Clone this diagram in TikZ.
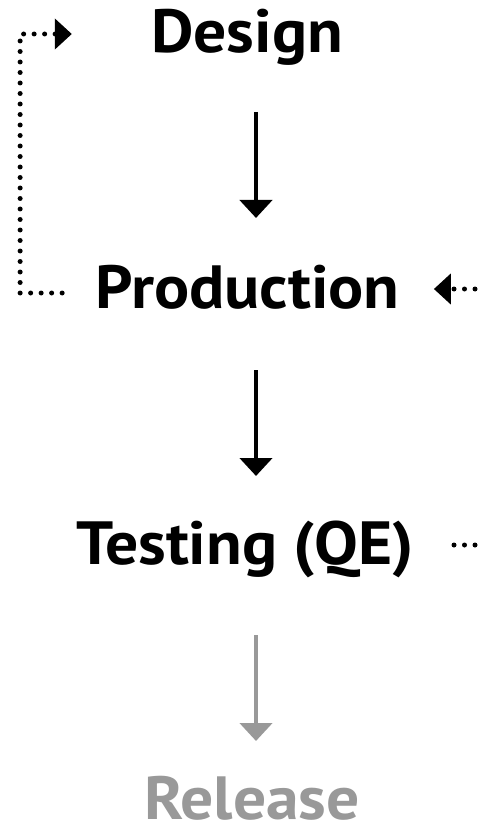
\documentclass[tikz,border=0pt]{standalone}
\usepackage{fontspec}
\setmainfont[FakeStretch=1.075]{PT Sans}
\usetikzlibrary{positioning}
\usetikzlibrary{calc}
\usetikzlibrary{arrows.meta}
\definecolor{relgray}{RGB}{153,153,153}

\begin{document}
\begin{tikzpicture}[
    x=1pt, y=-1pt,
    % node styles
    stage/.style = {
      inner sep=0pt,
      anchor=base,
      font=\bfseries\fontsize{61}{61}\selectfont
    },
    % arrow styles
    arr/.style = {-{Triangle[length=18pt,width=32pt]}, line width=4.5pt},
    dotline/.style = {line width=5pt, line cap=round, dash pattern=on 0pt off 10.5pt},
    dotarr/.style = {dotline, -{Triangle[length=17pt,width=30pt]}}
  ]
  \useasboundingbox (0,0) rectangle (479,826);

  % --- Nodes
  \node[stage] (design) at (247,53) {Design};
  \node[stage] (prod) at (247.5,308) {Production};
  \node[stage] (testing) at (245,564) {Testing (QE)};
  \node[stage, text=relgray] (release) at (252,819) {Release};

  \coordinate (axis) at (256,0);
  \coordinate (inP) at (475,289);
  \coordinate (outT) at (475,545);

  % --- Arrows
  \draw[arr] ($(design.base -| axis)+(0,59)$) -- ($(prod.base -| axis)+(0,-90)$);
  \draw[arr] ($(prod.base -| axis)+(0,62)$) -- ($(testing.base -| axis)+(0,-88)$);
  \draw[arr, draw=relgray, fill=relgray] ($(testing.base -| axis)+(0,71)$) -- ($(release.base -| axis)+(0,-78)$);

  % loop back and the bits on the right
  \draw[dotarr] ($(prod.base west)+(-33,-15)$) -- ++(-42,0) |- ($(design.base west)+(-79,-19)$);
  \draw[dotarr] (inP) -- ($(prod.base east)+(34,-19)$);
  \draw[dotline] (outT) -- ($(testing.base east)+(31,-19)$);

\end{tikzpicture}
\end{document}
